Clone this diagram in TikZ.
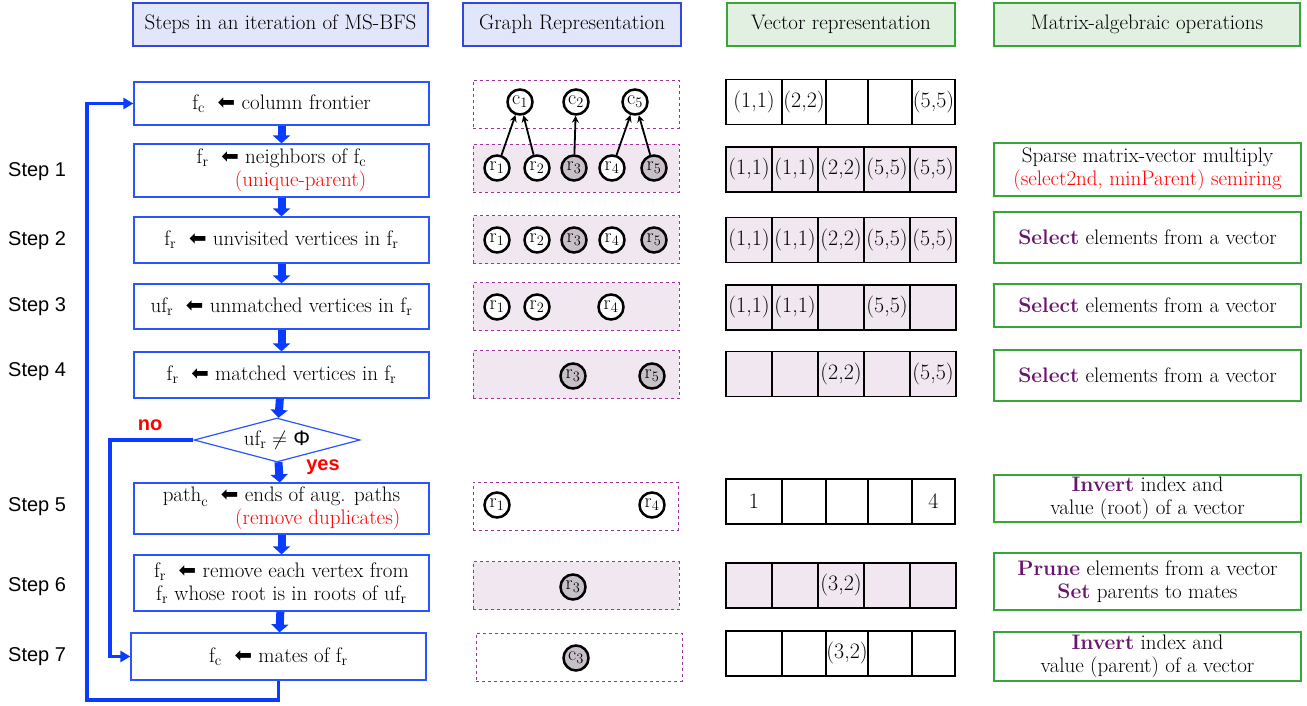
\documentclass[tikz,border=0pt]{standalone}
\usepackage{fontspec}
\newfontfamily\stepfont{Liberation Sans}
\newfontfamily\symbolfont{DejaVu Sans}
\usetikzlibrary{arrows.meta,shapes.geometric}

\definecolor{flowblue}{RGB}{10,60,255}
\definecolor{boxblue}{RGB}{40,85,255}
\definecolor{headblue}{RGB}{50,70,225}
\definecolor{headfill}{RGB}{225,230,250}
\definecolor{opsgreen}{RGB}{55,165,55}
\definecolor{opsfill}{RGB}{226,240,226}
\definecolor{dashpurple}{RGB}{160,50,160}
\definecolor{lavender}{RGB}{241,231,241}
\definecolor{nodegray}{RGB}{200,192,200}
\definecolor{oppurple}{RGB}{105,20,110}

\newcommand{\lassign}{{\symbolfont\fontsize{21}{21}\selectfont ⬅}}
\newcommand{\fsub}[1]{$\mathrm{f}_{\mathrm{#1}}$}
\newcommand{\opword}[1]{\textcolor{oppurple}{\textbf{#1}}}

\tikzset{
  stephead/.style={draw=headblue, fill=headfill, line width=1.2pt,
    minimum height=43pt, inner sep=0},
  opshead/.style={draw=opsgreen, fill=opsfill, line width=1.2pt,
    minimum height=43pt, inner sep=0},
  flowbox/.style={draw=boxblue, line width=1.2pt, minimum width=295pt,
    inner sep=0, align=center},
  decision/.style={diamond, draw=boxblue, line width=1.2pt, aspect=3.8,
    inner sep=0, minimum width=166pt, minimum height=44pt},
  flowarrow/.style={flowblue, line width=8pt,
    -{Triangle[width=17pt,length=8pt]}},
  loopline/.style={flowblue, line width=3.5pt},
  looparrow/.style={loopline, -{Triangle[width=11pt,length=10pt]}},
  branch/.style={text=red, inner sep=0,
    font=\stepfont\bfseries\fontsize{20}{20}\selectfont},
  steplabel/.style={anchor=west, inner sep=0,
    font=\stepfont\fontsize{20}{20}\selectfont},
  gbox/.style={draw=dashpurple, dashed, line width=0.9pt,
    minimum width=206pt, minimum height=48pt},
  gboxfill/.style={gbox, fill=lavender},
  gnode/.style={circle, draw, line width=2.5pt, fill=white,
    minimum size=25pt, inner sep=0, font=\fontsize{20}{20}\selectfont},
  gnodedark/.style={gnode, fill=nodegray},
  gedge/.style={line width=1.8pt, -{Stealth[length=7pt,width=7pt]}},
  vcell/.style={draw, line width=1.8pt, minimum height=45pt, inner sep=0,
    font=\fontsize{22}{22}\selectfont},
  vcellfill/.style={vcell, fill=lavender, minimum width=46pt},
  opbox/.style={draw=opsgreen, line width=1.2pt, minimum width=307pt,
    inner sep=0, align=center}
}

\begin{document}
\begin{tikzpicture}[x=1pt, y=-1pt, font=\fontsize{21}{23}\selectfont]
  \useasboundingbox (0, 0) rectangle (1307, 706);

  \node[stephead, minimum width=295pt] (hsteps) at (280.5, 24.5) {Steps in an iteration of MS-BFS};
  \node[stephead, minimum width=218pt] (hgraph) at (572, 24.5) {Graph Representation};
  \node[opshead, minimum width=228pt] (hvector) at (841, 24.5) {Vector representation};
  \node[opshead, minimum width=306pt] (hops) at (1147, 24.5) {Matrix-algebraic operations};

  \node[steplabel] (step1) at (8, 172) {Step 1};
  \node[steplabel] (step2) at (8, 241) {Step 2};
  \node[steplabel] (step3) at (8, 307) {Step 3};
  \node[steplabel] (step4) at (8, 372) {Step 4};
  \node[steplabel] (step5) at (8, 507) {Step 5};
  \node[steplabel] (step6) at (8, 587) {Step 6};
  \node[steplabel] (step7) at (8, 657) {Step 7};

  \node[flowbox, minimum height=43pt] (b0) at (281.5, 103.5)
    {\fsub{c}\ \ \lassign\ column frontier};
  \node[flowbox, minimum height=53pt, align=right] (b1) at (281.5, 170.5)
    {\fsub{r}\ \ \lassign\ neighbors of \fsub{c}\\\textcolor{red}{(unique-parent)}};
  \node[flowbox, minimum height=46pt] (b2) at (281.5, 240)
    {\fsub{r}\ \ \lassign\ unvisited vertices in \fsub{r}};
  \node[flowbox, minimum height=45pt] (b3) at (281.5, 306.5)
    {$\mathrm{uf}_{\mathrm{r}}$\ \ \lassign\ unmatched vertices in \fsub{r}};
  \node[flowbox, minimum height=46pt] (b4) at (281.5, 375)
    {\fsub{r}\ \ \lassign\ matched vertices in \fsub{r}};
  \node[decision] (dia) at (277, 440)
    {$\mathrm{uf}_{\mathrm{r}} \neq$ {\stepfont Φ}};
  \node[flowbox, minimum height=51pt, align=right] (b5) at (281.5, 508.5)
    {$\mathrm{path}_{\mathrm{c}}$\ \ \lassign\ ends of aug. paths\\\textcolor{red}{(remove duplicates)}};
  \node[flowbox, minimum height=56pt] (b6) at (281.5, 583)
    {\fsub{r}\ \ \lassign\ remove each vertex from\\\fsub{r} whose root is in roots of $\mathrm{uf}_{\mathrm{r}}$};
  \node[flowbox, minimum height=47pt] (b7) at (278.5, 656.5)
    {\fsub{c}\ \ \lassign\ mates of \fsub{r}};

  \draw[flowarrow] (b0) -- (b1);
  \draw[flowarrow] (b1) -- (b2);
  \draw[flowarrow] (b2) -- (b3);
  \draw[flowarrow] (b3) -- (b4);
  \draw[flowarrow] (b4) -- (dia);
  \draw[flowarrow] (dia) -- (b5);
  \draw[flowarrow] (b5) -- (b6);
  \draw[flowarrow] (b6) -- (b7);

  \coordinate (loopcorner) at (87, 700);
  \coordinate (nocorner) at (110, 440);
  \draw[looparrow] (b7.south) |- (loopcorner) |- (b0.west);
  \draw[looparrow] (dia.west) -- (nocorner) |- (b7.west);
  \node[branch] (no) at (150, 425) {no};
  \node[branch] (yes) at (323, 467) {yes};

  \node[gbox] (g0) at (576, 104) {};
  \node[gboxfill] (g1) at (576, 168) {};
  \node[gboxfill] (g2) at (576, 239.5) {};
  \node[gboxfill] (g3) at (576, 306.5) {};
  \node[gboxfill] (g4) at (576, 374.5) {};
  \node[gbox, minimum width=205pt] (g5) at (575.5, 506) {};
  \node[gboxfill] (g6) at (576, 585.5) {};
  \node[gbox] (g7) at (579, 657) {};

  \node[gnode] (c1) at (520, 102) {$\mathrm{c}_1$};
  \node[gnode] (c2) at (576, 102) {$\mathrm{c}_2$};
  \node[gnode] (c5) at (635, 102) {$\mathrm{c}_5$};
  \node[gnode] (s1r1) at (497, 168) {$\mathrm{r}_1$};
  \node[gnode] (s1r2) at (537, 168) {$\mathrm{r}_2$};
  \node[gnodedark] (s1r3) at (574, 168) {$\mathrm{r}_3$};
  \node[gnode] (s1r4) at (612, 168) {$\mathrm{r}_4$};
  \node[gnodedark] (s1r5) at (654, 168) {$\mathrm{r}_5$};
  \draw[gedge] (s1r1) -- (c1);
  \draw[gedge] (s1r2) -- (c1);
  \draw[gedge] (s1r3) -- (c2);
  \draw[gedge] (s1r4) -- (c5);
  \draw[gedge] (s1r5) -- (c5);

  \node[gnode] (s2r1) at (497, 240) {$\mathrm{r}_1$};
  \node[gnode] (s2r2) at (537, 240) {$\mathrm{r}_2$};
  \node[gnodedark] (s2r3) at (574, 240) {$\mathrm{r}_3$};
  \node[gnode] (s2r4) at (612, 240) {$\mathrm{r}_4$};
  \node[gnodedark] (s2r5) at (654, 240) {$\mathrm{r}_5$};

  \node[gnode] (s3r1) at (497, 307) {$\mathrm{r}_1$};
  \node[gnode] (s3r2) at (537, 307) {$\mathrm{r}_2$};
  \node[gnode] (s3r4) at (611, 307) {$\mathrm{r}_4$};

  \node[gnodedark] (s4r3) at (573, 376) {$\mathrm{r}_3$};
  \node[gnodedark] (s4r5) at (652, 376) {$\mathrm{r}_5$};

  \node[gnode] (s5r1) at (497, 505) {$\mathrm{r}_1$};
  \node[gnode] (s5r4) at (652, 505) {$\mathrm{r}_4$};

  \node[gnodedark] (s6r3) at (573, 587) {$\mathrm{r}_3$};

  \node[gnodedark] (s7c3) at (576, 658) {$\mathrm{c}_3$};

  \node[vcell, minimum width=56pt] (v0a) at (754, 102) {(1,1)};
  \node[vcell, minimum width=44pt] (v0b) at (804, 102) {(2,2)};
  \node[vcell, minimum width=42pt] (v0c) at (847, 102) {};
  \node[vcell, minimum width=44pt] (v0d) at (890, 102) {};
  \node[vcell, minimum width=43pt] (v0e) at (933.5, 102) {(5,5)};

  \node[vcellfill] (v1a) at (749, 169.5) {(1,1)};
  \node[vcellfill] (v1b) at (795, 169.5) {(1,1)};
  \node[vcellfill] (v1c) at (841, 169.5) {(2,2)};
  \node[vcellfill] (v1d) at (887, 169.5) {(5,5)};
  \node[vcellfill] (v1e) at (933, 169.5) {(5,5)};

  \node[vcellfill] (v2a) at (749, 240) {(1,1)};
  \node[vcellfill] (v2b) at (795, 240) {(1,1)};
  \node[vcellfill] (v2c) at (841, 240) {(2,2)};
  \node[vcellfill] (v2d) at (887, 240) {(5,5)};
  \node[vcellfill] (v2e) at (933, 240) {(5,5)};

  \node[vcellfill] (v3a) at (749, 307.5) {(1,1)};
  \node[vcellfill] (v3b) at (795, 307.5) {(1,1)};
  \node[vcellfill] (v3c) at (841, 307.5) {};
  \node[vcellfill] (v3d) at (887, 307.5) {(5,5)};
  \node[vcellfill] (v3e) at (933, 307.5) {};

  \node[vcellfill] (v4a) at (749, 374) {};
  \node[vcellfill] (v4b) at (795, 374) {};
  \node[vcellfill] (v4c) at (841, 374) {(2,2)};
  \node[vcellfill] (v4d) at (887, 374) {};
  \node[vcellfill] (v4e) at (933, 374) {(5,5)};

  \node[vcell, minimum width=56pt] (v5a) at (754, 501.5) {1};
  \node[vcell, minimum width=44pt] (v5b) at (804, 501.5) {};
  \node[vcell, minimum width=42pt] (v5c) at (847, 501.5) {};
  \node[vcell, minimum width=44pt] (v5d) at (890, 501.5) {};
  \node[vcell, minimum width=43pt] (v5e) at (933.5, 501.5) {4};

  \node[vcellfill] (v6a) at (749, 585.5) {};
  \node[vcellfill] (v6b) at (795, 585.5) {};
  \node[vcellfill] (v6c) at (841, 585.5) {(3,2)};
  \node[vcellfill] (v6d) at (887, 585.5) {};
  \node[vcellfill] (v6e) at (933, 585.5) {};

  \node[vcell, minimum width=56pt] (v7a) at (754, 653.5) {};
  \node[vcell, minimum width=44pt] (v7b) at (804, 653.5) {};
  \node[vcell, minimum width=42pt] (v7c) at (847, 653.5) {(3,2)};
  \node[vcell, minimum width=44pt] (v7d) at (890, 653.5) {};
  \node[vcell, minimum width=43pt] (v7e) at (933.5, 653.5) {};

  \node[opbox, minimum height=53pt] (op1) at (1147.5, 169.5)
    {Sparse matrix-vector multiply\\\textcolor{red}{(select2nd, minParent) semiring}};
  \node[opbox, minimum height=51pt] (op2) at (1147.5, 237.5)
    {\opword{Select} elements from a vector};
  \node[opbox, minimum height=43pt] (op3) at (1147.5, 305.5)
    {\opword{Select} elements from a vector};
  \node[opbox, minimum height=51pt] (op4) at (1147.5, 375.5)
    {\opword{Select} elements from a vector};
  \node[opbox, minimum height=47pt] (op5) at (1147.5, 498.5)
    {\opword{Invert} index and\\value (root) of a vector};
  \node[opbox, minimum height=57pt] (op6) at (1147.5, 581.5)
    {\opword{Prune} elements from a vector\\\opword{Set} parents to mates};
  \node[opbox, minimum height=49pt] (op7) at (1147.5, 656.5)
    {\opword{Invert} index and\\value (parent) of a vector};

\end{tikzpicture}
\end{document}
